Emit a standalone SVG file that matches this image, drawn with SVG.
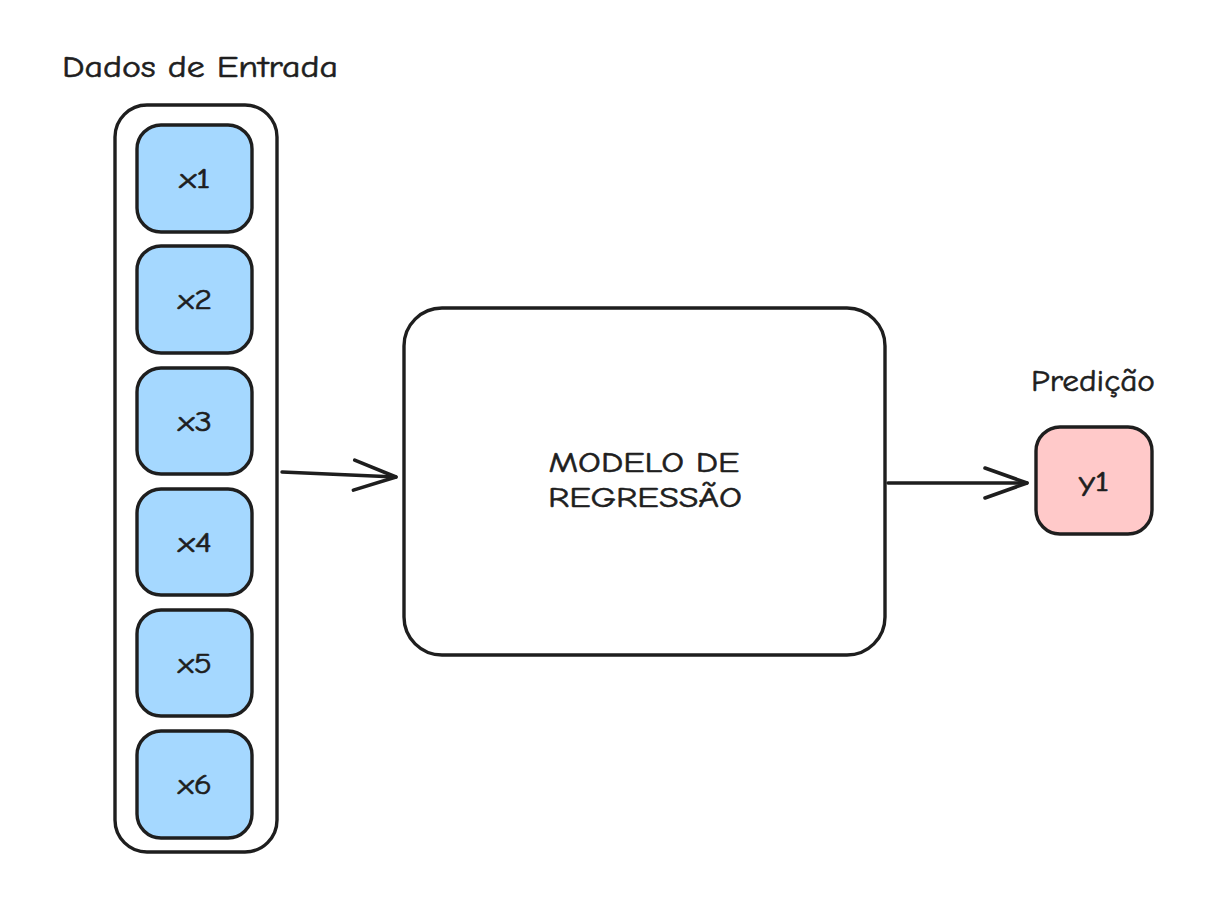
<svg xmlns="http://www.w3.org/2000/svg" width="1208" height="898" viewBox="0 0 1208 898">
<style>
.s{stroke:#1e1e1e;stroke-width:3.4;stroke-linecap:round;stroke-linejoin:round}
.in{fill:#a5d8ff}
.t{font-family:"Comic Neue","Liberation Sans","Noto Sans",sans-serif;fill:#1e1e1e;stroke:#1e1e1e;stroke-width:0.6}
.lbl{font-size:29px;text-anchor:middle;dominant-baseline:central}
.ttl{font-size:31px}
</style>
<defs>
<marker id="ah" viewBox="0 0 48 36" refX="45" refY="18" markerWidth="48" markerHeight="36" markerUnits="userSpaceOnUse" orient="auto">
<path d="M3 3 L45 18 L3 33" fill="none" stroke="#1e1e1e" stroke-width="3.6" stroke-linecap="round" stroke-linejoin="round"/>
</marker>
</defs>
<rect width="1208" height="898" fill="#ffffff"/>
<g id="title-entrada"><text class="t ttl" x="62" y="77" textLength="276" lengthAdjust="spacingAndGlyphs">Dados de Entrada</text></g>
<g id="container"><rect class="s" x="115" y="105" width="162" height="747" rx="32" fill="none"/></g>
<g id="x1"><rect class="s in" x="137" y="125" width="115" height="107" rx="24"/><text class="t lbl" x="195" y="178" textLength="31" lengthAdjust="spacingAndGlyphs">x1</text></g>
<g id="x2"><rect class="s in" x="137" y="246" width="115" height="107" rx="24"/><text class="t lbl" x="195" y="299" textLength="34" lengthAdjust="spacingAndGlyphs">x2</text></g>
<g id="x3"><rect class="s in" x="137" y="368" width="115" height="106" rx="24"/><text class="t lbl" x="195" y="421" textLength="34" lengthAdjust="spacingAndGlyphs">x3</text></g>
<g id="x4"><rect class="s in" x="137" y="489" width="115" height="106" rx="24"/><text class="t lbl" x="195" y="542" textLength="34" lengthAdjust="spacingAndGlyphs">x4</text></g>
<g id="x5"><rect class="s in" x="137" y="610" width="115" height="106" rx="24"/><text class="t lbl" x="195" y="663" textLength="34" lengthAdjust="spacingAndGlyphs">x5</text></g>
<g id="x6"><rect class="s in" x="137" y="731" width="115" height="107" rx="24"/><text class="t lbl" x="195" y="784" textLength="34" lengthAdjust="spacingAndGlyphs">x6</text></g>
<g id="modelo"><rect class="s" x="404" y="308" width="481" height="347" rx="38" fill="#ffffff"/>
<text class="t lbl" x="644" y="462" textLength="191" lengthAdjust="spacingAndGlyphs">MODELO DE</text><text class="t lbl" x="645" y="497" textLength="194" lengthAdjust="spacingAndGlyphs">REGRESSÃO</text></g>
<g id="title-predicao"><text class="t ttl" x="1093" y="391" text-anchor="middle" textLength="124" lengthAdjust="spacingAndGlyphs">Predição</text></g>
<g id="y1"><rect class="s" x="1036" y="427" width="116" height="107" rx="24" fill="#ffc9c9"/><text class="t lbl" x="1094" y="481" textLength="30" lengthAdjust="spacingAndGlyphs">y1</text></g>
<g id="connectors">
<path class="s" d="M282 472 L396 477" fill="none" marker-end="url(#ah)"/>
<path class="s" d="M888 483 L1027 483" fill="none" marker-end="url(#ah)"/>
</g>
</svg>
